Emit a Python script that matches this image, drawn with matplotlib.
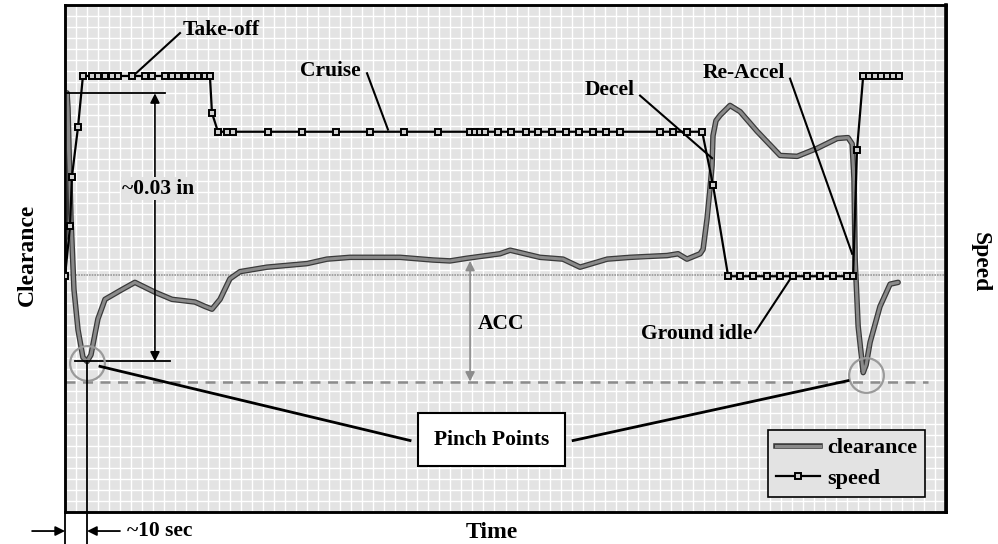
import numpy as np
import matplotlib
matplotlib.use("Agg")
import matplotlib.pyplot as plt
import matplotlib.patheffects as pe
from matplotlib.lines import Line2D

# ---------------- data (time in s, clearance in mils, speed in %) ----------------
clear_t = [0, 0.43, 0.87, 1.3, 1.74, 2.6, 3.9, 5.65, 7.8, 9.6, 11.3, 14.3, 17.4, 24.8,
           30.4, 39.1, 46.5, 56.5, 60.9, 63.9, 67.4, 71.7, 76.1, 87.8, 105.2, 113.9,
           123.9, 145.7, 160.0, 167.4, 174.8, 189.1, 193.5, 206.5, 216.5, 223.9, 235.7,
           245.7, 261.7, 266.5, 270.4, 276.1, 277.4, 279.1, 280.4, 281.3, 281.7, 283.0,
           284.8, 289.1, 293.5, 300.9, 310.9, 318.3, 327.0, 335.7, 340.4, 342.2, 343.0,
           343.5, 344.8, 347.0, 348.3, 350.0, 354.3, 358.7, 362.2]
clear_c = [30.6, 40.7, 46.9, 45.2, 40.7, 32.8, 24.9, 20.4, 17.3, 16.85, 17.6, 21.6, 23.8, 24.9,
           25.7, 24.6, 23.8, 23.5, 23.0, 22.7, 23.8, 26.1, 26.9, 27.4, 27.8, 28.3,
           28.5, 28.5, 28.2, 28.1, 28.4, 28.9, 29.3, 28.5, 28.3, 27.4, 28.3,
           28.5, 28.7, 28.9, 28.3, 28.9, 29.4, 32.8, 36.2, 38.8, 42.1, 43.8,
           44.4, 45.5, 44.8, 42.6, 39.9, 39.8, 40.7, 41.8, 41.9, 41.2, 37.3,
           28.3, 20.8, 15.6, 16.5, 19.0, 23.0, 25.5, 25.7]

speed_t = [0, 2.2, 3.0, 5.65, 7.8, 11.7, 14.3, 17.4, 20.4, 23.0, 29.1, 34.8, 37.8, 43.5,
           46.5, 49.1, 52.2, 55.2, 57.8, 60.9, 63.0, 63.9, 66.5, 70.4, 73.0, 88.3, 103.0,
           117.8, 132.6, 147.4, 162.2, 176.1, 178.3, 180.4, 182.6, 188.3, 193.9, 200.4,
           205.7, 211.7, 217.8, 223.5, 229.6, 235.2, 241.3, 258.7, 264.3, 270.4, 277.0,
           281.7, 288.3, 293.5, 299.1, 305.2, 310.9, 316.5, 322.6, 328.3, 333.9, 340.0,
           342.6, 344.3, 347.0, 349.6, 352.2, 354.8, 357.4, 360.0, 362.6]
speed_s = [46.5, 56.4, 66.1, 75.9, 86.0, 86.0, 86.0, 86.0, 86.0, 86.0, 86.0, 86.0, 86.0, 86.0,
           86.0, 86.0, 86.0, 86.0, 86.0, 86.0, 86.0, 78.7, 75.0, 75.0, 75.0, 75.0, 75.0,
           75.0, 75.0, 75.0, 75.0, 75.0, 75.0, 75.0, 75.0, 75.0, 75.0, 75.0,
           75.0, 75.0, 75.0, 75.0, 75.0, 75.0, 75.0, 75.0, 75.0, 75.0, 75.0,
           64.5, 46.5, 46.5, 46.5, 46.5, 46.5, 46.5, 46.5, 46.5, 46.5, 46.5,
           46.5, 71.4, 86.0, 86.0, 86.0, 86.0, 86.0, 86.0, 86.0]

acc_ref = 26.5        # clearance reference line (mils)
pinch_level = 14.6    # dashed pinch line (mils)
min_clear = 16.85     # clearance at first pinch point
max_clear = 46.85     # ~0.03 in above the pinch
pinch_t = [9.6, 348.3]
pinch_c = [16.7, 15.3]

T_MAX, C_MAX, S_MAX = 383.0, 56.74, 100.0

serif = "Liberation Serif"
bold = dict(family=serif, weight="bold")
FS = 15.5
BG = "#e3e3e3"

fig = plt.figure(figsize=(9.98, 5.44), dpi=100)
ax = fig.add_axes([65/998, 32/544, 881/998, 507/544])
ax.set_xlim(0, T_MAX)
ax.set_ylim(0, C_MAX)
ax.set_facecolor(BG)
ax.set_xticks(np.linspace(0, T_MAX, 81))
ax.set_yticks(np.linspace(0, C_MAX, 47))
ax.tick_params(length=0, labelbottom=False, labelleft=False)
ax.grid(True, color="white", lw=1.0)
ax.set_axisbelow(True)
for s in ax.spines.values():
    s.set_linewidth(1.8)

# reference lines
ax.axhline(acc_ref, color="#999999", lw=1.2, ls=(0, (1, 0.6)))
ax.axhline(pinch_level, xmin=0.0, xmax=0.98, color="#8c8c8c", lw=1.8, ls=(0, (4, 3)))

# clearance curve
ax.plot(clear_t, clear_c, color="#8a8a8a", lw=2.2, solid_capstyle="round",
        path_effects=[pe.Stroke(linewidth=4, foreground="#3a3a3a"), pe.Normal()],
        zorder=4)

# speed on twin axis
ax2 = ax.twinx()
ax2.set_ylim(0, S_MAX)
ax2.set_yticks([])
ax2.plot(speed_t, speed_s, color="black", lw=1.6, marker="s", ms=4.5,
         mfc="#d0d0d0", mec="black", mew=1.4, zorder=5)
for s in ax2.spines.values():
    s.set_linewidth(1.8)
ax2.spines["right"].set_linewidth(2.6)

# ~0.03 in dimension
ax.plot([0, 43.5], [max_clear, max_clear], color="black", lw=1.3, zorder=6)
ax.plot([4.3, 45.7], [min_clear, min_clear], color="black", lw=1.3, zorder=6)
ax.annotate("", xy=(39.1, max_clear), xytext=(39.1, min_clear),
            arrowprops=dict(arrowstyle="<|-|>", color="black", lw=1.2,
                            mutation_scale=14, shrinkA=0, shrinkB=0), zorder=6)
ax.text(40.4, 36.2, "~0.03 in", ha="center", va="center", fontsize=FS, zorder=7,
        bbox=dict(facecolor=BG, edgecolor="none", pad=1), **bold)

# ACC arrow
ax.annotate("", xy=(176.1, 28.1), xytext=(176.1, pinch_level),
            arrowprops=dict(arrowstyle="<|-|>", color="#8c8c8c", lw=1.2,
                            mutation_scale=14, shrinkA=0, shrinkB=0), zorder=6)
ax.text(179.5, 21.0, "ACC", ha="left", va="center", fontsize=FS, **bold)


def label(txt, x, y, ha="left"):
    ax.text(x, y, txt, ha=ha, va="center", fontsize=FS, zorder=7, **bold)


label("Take-off", 51.3, 53.9)
ax.plot([50.0, 29.6], [53.6, 48.8], color="black", lw=1.5, zorder=6)
label("Cruise", 102.2, 49.4)
ax.plot([131.3, 140.4], [49.1, 42.8], color="black", lw=1.5, zorder=6)
label("Decel", 226.1, 47.2)
ax.plot([250.0, 281.3], [46.6, 39.6], color="black", lw=1.5, zorder=6)
label("Re-Accel", 277.4, 49.1)
ax.plot([315.2, 342.2], [48.5, 28.9], color="black", lw=1.5, zorder=6)
label("Ground idle", 298.7, 19.9, ha="right")
ax.plot([300.0, 316.1], [20.1, 26.4], color="black", lw=1.5, zorder=6)

# pinch points
ax.plot(pinch_t, pinch_c, "o", ms=25, mfc="none", mec="#9a9a9a", mew=1.6, zorder=6)
ax.plot([15.2, 150.0], [16.3, 8.0], color="black", lw=2.0, zorder=6)
ax.plot([220.9, 340.4], [8.0, 14.7], color="black", lw=2.0, zorder=6)
ax.text(185.5, 8.1, "Pinch Points", ha="center", va="center", fontsize=FS, zorder=8,
        bbox=dict(boxstyle="square,pad=0.75", facecolor="white", edgecolor="black", lw=1.5),
        **bold)

# ~10 sec dimension below the axes
ax.plot([9.6, 9.6], [min_clear, -3.7], color="black", lw=1.3, clip_on=False, zorder=6)
ax.plot([0, 0], [0, -3.7], color="black", lw=1.3, clip_on=False, zorder=6)
ax.annotate("", xy=(0, -2.13), xytext=(-14.3, -2.13), annotation_clip=False,
            arrowprops=dict(arrowstyle="-|>", color="black", lw=1.3,
                            mutation_scale=14, shrinkA=0, shrinkB=0))
ax.annotate("", xy=(9.6, -2.13), xytext=(23.9, -2.13), annotation_clip=False,
            arrowprops=dict(arrowstyle="-|>", color="black", lw=1.3,
                            mutation_scale=14, shrinkA=0, shrinkB=0))
ax.text(27.0, -2.13, "~10 sec", ha="left", va="center", fontsize=FS, clip_on=False, **bold)

# axis titles
fig.text(492/998, 1 - 532/544, "Time", ha="center", va="center", fontsize=17, **bold)
fig.text(27/998, 1 - 255/544, "Clearance", ha="center", va="center", rotation=90,
         fontsize=17, **bold)
fig.text(980/998, 1 - 262/544, "Speed", ha="center", va="center", rotation=270,
         fontsize=17, **bold)

# legend
h1 = Line2D([], [], color="#8a8a8a", lw=2.2,
            path_effects=[pe.Stroke(linewidth=4, foreground="#3a3a3a"), pe.Normal()])
h2 = Line2D([], [], color="black", lw=1.6, marker="s", ms=4.5, mfc="#d0d0d0",
            mec="black", mew=1.4)
leg = ax2.legend([h1, h2], ["clearance", "speed"], loc="lower right",
                 bbox_to_anchor=(0.976, 0.03), frameon=True, fancybox=False,
                 prop=dict(family=serif, weight="bold", size=16),
                 handlelength=2.0, handletextpad=0.3, borderpad=0.35, labelspacing=0.45,
                 borderaxespad=0)
leg.get_frame().set_edgecolor("black")
leg.get_frame().set_linewidth(1.2)
leg.get_frame().set_facecolor(BG)
leg.get_frame().set_alpha(1)

fig.savefig("out.png", dpi=100)
